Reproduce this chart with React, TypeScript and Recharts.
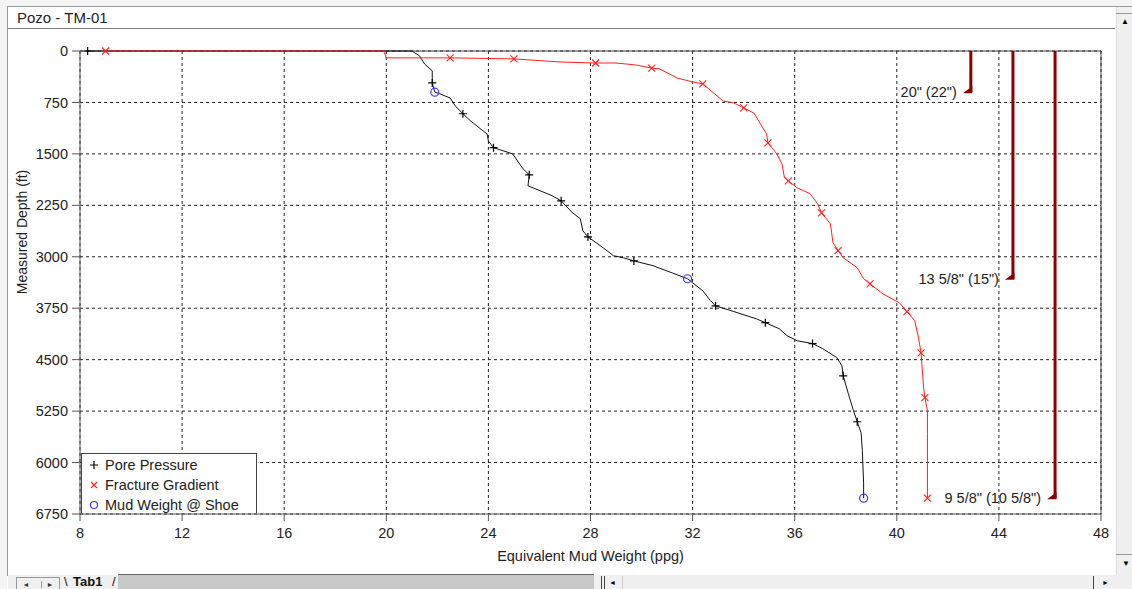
import React from 'react';
import {
  ScatterChart,
  Scatter,
  XAxis,
  YAxis,
  CartesianGrid,
  ReferenceLine,
  Legend,
  Label,
} from 'recharts';

// Pore pressure curve (ppg vs ft), markers at selected indices
const poreEmw = [
  8.3, 14.3, 21.0, 21.3, 21.5, 21.8, 21.8, 21.8, 21.9, 22.1, 22.5, 22.7, 23.0, 23.3, 23.95, 24.0,
  24.2, 24.95, 25.35, 25.6, 25.55, 26.5, 26.85, 27.3, 27.6, 27.7, 27.9, 28.5, 28.9, 29.3, 29.7,
  30.45, 31.2, 31.8, 32.0, 32.4, 32.7, 32.9, 33.5, 34.5, 34.85, 35.4, 35.7, 36.1, 36.7, 37.1,
  37.65, 37.85, 37.9, 38.1, 38.3, 38.45, 38.6, 38.65, 38.7, 38.7,
];
const poreDepth = [
  0, 0, 0, 70, 190, 290, 440, 465, 600, 625, 685, 800, 915, 1020, 1210, 1310,
  1410, 1500, 1715, 1805, 1965, 2110, 2185, 2360, 2445, 2620, 2710, 2870, 2985, 3015, 3060,
  3130, 3235, 3320, 3380, 3495, 3640, 3715, 3785, 3905, 3960, 4050, 4150, 4225, 4265, 4340,
  4470, 4590, 4735, 4995, 5240, 5405, 5565, 5825, 6300, 6520,
];
const poreMarks = [0, 7, 12, 16, 19, 22, 26, 30, 37, 40, 44, 48, 51];

// Fracture gradient curve
const fracEmw = [
  9.0, 19.9, 20.0, 22.5, 25.0, 26.8, 28.2, 29.0, 29.8, 30.4, 30.7, 31.4, 32.0, 32.4, 33.2, 33.6,
  34.0, 34.4, 34.9, 34.95, 35.3, 35.5, 35.6, 35.75, 36.1, 36.6, 36.9, 37.05, 37.4, 37.5, 37.7,
  37.9, 38.45, 38.7, 38.95, 39.45, 40.1, 40.4, 40.7, 40.85, 40.95, 41.05, 41.1, 41.2, 41.2, 41.2,
];
const fracDepth = [
  0, 0, 100, 100, 115, 160, 175, 175, 205, 250, 260, 395, 450, 480, 730, 755,
  830, 905, 1210, 1340, 1500, 1645, 1850, 1895, 1995, 2080, 2230, 2360, 2520, 2795, 2910,
  3015, 3160, 3320, 3395, 3540, 3670, 3800, 3930, 4180, 4400, 4910, 5055, 5240, 5580, 6520,
];
const fracMarks = [0, 3, 4, 6, 9, 13, 16, 19, 23, 27, 30, 34, 37, 40, 42, 45];

// Mud weight at casing shoes
const shoeEmw = [21.9, 31.8, 38.7];
const shoeDepth = [600, 3320, 6520];

// Casing strings
const casingNames = ['20" (22")', '13 5/8" (15")', '9 5/8" (10 5/8")'];
const casingX = [42.9, 44.55, 46.2];
const casingShoe = [600, 3320, 6520];

const xTicks = [8, 12, 16, 20, 24, 28, 32, 36, 40, 44, 48];
const yTicks = [0, 750, 1500, 2250, 3000, 3750, 4500, 5250, 6000, 6750];

const poreData = poreEmw.map((x, i) => ({ x, d: poreDepth[i], mark: poreMarks.includes(i) }));
const fracData = fracEmw.map((x, i) => ({ x, d: fracDepth[i], mark: fracMarks.includes(i) }));
const shoeData = shoeEmw.map((x, i) => ({ x, d: shoeDepth[i] }));
const casingData = casingNames.map((name, i) => [
  { x: casingX[i], d: 0 },
  { x: casingX[i], d: casingShoe[i], foot: true, name },
]);

const FONT = '"Liberation Sans", Arial, sans-serif';
const TEXT = '#222';

const PlusShape = (props: any) => {
  const { cx, cy, payload } = props;
  if (!payload || !payload.mark) return <g />;
  return <path d={`M${cx - 4},${cy}H${cx + 4}M${cx},${cy - 4}V${cy + 4}`} stroke="#000" strokeWidth={1.2} />;
};

const CrossShape = (props: any) => {
  const { cx, cy, payload } = props;
  if (!payload || !payload.mark) return <g />;
  return (
    <path
      d={`M${cx - 3.5},${cy - 3.5}L${cx + 3.5},${cy + 3.5}M${cx + 3.5},${cy - 3.5}L${cx - 3.5},${cy + 3.5}`}
      stroke="#ff2020"
      strokeWidth={1.1}
    />
  );
};

const CircleShape = (props: any) => {
  const { cx, cy } = props;
  return <circle cx={cx} cy={cy} r={4} fill="none" stroke="#3a3aff" strokeWidth={1.2} />;
};

const CasingShape = (props: any) => {
  const { cx, cy, payload } = props;
  if (!payload || !payload.foot) return <g />;
  return (
    <g>
      <polygon points={`${cx + 1.5},${cy + 1} ${cx - 8},${cy + 1} ${cx + 1.5},${cy - 6}`} fill="#8b0000" />
      <text x={cx - 14} y={cy} dy={5} textAnchor="end" fontFamily={FONT} fontSize={14.5} fill={TEXT}>
        {payload.name}
      </text>
    </g>
  );
};

const LegendBox = () => {
  const rows = [
    { label: 'Pore Pressure', icon: <path d="M1,5H9M5,1V9" stroke="#000" strokeWidth={1.2} /> },
    {
      label: 'Fracture Gradient',
      icon: <path d="M2,2L8,8M8,2L2,8" stroke="#ff2020" strokeWidth={1.1} />,
    },
    { label: 'Mud Weight @ Shoe', icon: <circle cx={5} cy={5} r={3.5} fill="none" stroke="#3a3aff" strokeWidth={1.2} /> },
  ];
  return (
    <div
      style={{
        width: 176,
        height: 60,
        border: '1px solid #444',
        borderBottom: 'none',
        background: '#fff',
        boxSizing: 'border-box',
        paddingTop: 1,
        fontFamily: FONT,
        fontSize: 14.5,
        color: TEXT,
      }}
    >
      {rows.map((r) => (
        <div key={r.label} style={{ height: 20, display: 'flex', alignItems: 'center' }}>
          <svg width={10} height={10} style={{ marginLeft: 7, marginRight: 6 }}>
            {r.icon}
          </svg>
          <span>{r.label}</span>
        </div>
      ))}
    </div>
  );
};

const App: React.FC = () => {
  return (
    <div
      style={{
        position: 'absolute',
        left: 0,
        top: 0,
        width: 1132,
        height: 589,
        background: '#fff',
        overflow: 'hidden',
        fontFamily: FONT,
      }}
    >
      {/* window frame */}
      <div style={{ position: 'absolute', left: 0, top: 0, width: 1132, height: 6, background: '#f4f4f4' }} />
      <div style={{ position: 'absolute', left: 7, top: 6, width: 1125, height: 1, background: '#9a9a9a' }} />
      <div style={{ position: 'absolute', left: 0, top: 0, width: 7, height: 589, background: '#f4f4f4' }} />
      <div style={{ position: 'absolute', left: 7, top: 6, width: 1, height: 570, background: '#9a9a9a' }} />
      <div style={{ position: 'absolute', left: 17, top: 9, fontSize: 15, color: TEXT }}>Pozo - TM-01</div>
      <div style={{ position: 'absolute', left: 8, top: 28, width: 1107, height: 1, background: '#7a7a7a' }} />
      {/* right scrollbar */}
      <div
        style={{
          position: 'absolute',
          left: 1116,
          top: 7,
          width: 16,
          height: 569,
          background: '#f0f0f0',
          borderLeft: '1px solid #dcdcdc',
        }}
      />
      <div style={{ position: 'absolute', left: 1116, top: 13, width: 16, height: 1, background: '#9a9a9a' }} />
      <div style={{ position: 'absolute', left: 1121, top: 17, fontSize: 8, color: '#000' }}>▲</div>
      <div style={{ position: 'absolute', left: 1116, top: 554, width: 16, height: 1, background: '#9a9a9a' }} />
      <div style={{ position: 'absolute', left: 1122, top: 559, fontSize: 8, color: '#000' }}>▼</div>
      {/* bottom tab bar */}
      <div style={{ position: 'absolute', left: 8, top: 575, width: 1124, height: 14, background: '#f0f0f0' }} />
      <div style={{ position: 'absolute', left: 118, top: 574, width: 476, height: 15, background: '#c8c8c8', borderTop: '1px solid #666' }} />
      <div
        style={{
          position: 'absolute',
          left: 16,
          top: 577,
          width: 42,
          height: 12,
          border: '1px solid #999',
          borderBottom: 'none',
          fontSize: 7,
          color: '#333',
          display: 'flex',
          justifyContent: 'space-around',
          alignItems: 'center',
        }}
      >
        <span>◄</span>
        <span style={{ borderLeft: '1px solid #999', paddingLeft: 5 }}>►</span>
      </div>
      <div style={{ position: 'absolute', left: 73, top: 574, fontSize: 13, lineHeight: '15px', fontWeight: 'bold', color: '#111' }}>Tab1</div>
      <div style={{ position: 'absolute', left: 64, top: 574, fontSize: 13, lineHeight: '15px', color: '#111' }}>\</div>
      <div style={{ position: 'absolute', left: 112, top: 574, fontSize: 13, lineHeight: '15px', color: '#111' }}>/</div>
      <div style={{ position: 'absolute', left: 601, top: 576, width: 2, height: 13, borderLeft: '1px solid #444', borderRight: '1px solid #444' }} />
      <div style={{ position: 'absolute', left: 609, top: 579, fontSize: 7, color: '#000' }}>◄</div>
      <div style={{ position: 'absolute', left: 622, top: 576, width: 1, height: 13, background: '#ccc' }} />
      <div style={{ position: 'absolute', left: 1093, top: 576, width: 1, height: 13, background: '#444' }} />
      <div style={{ position: 'absolute', left: 1102, top: 579, fontSize: 7, color: '#000' }}>►</div>

      <div style={{ position: 'absolute', left: 0, top: 0 }}>
        <ScatterChart width={1132} height={589} margin={{ top: 51, right: 31, left: 30, bottom: 35 }}>
          <CartesianGrid strokeDasharray="3 3" stroke="#222" strokeWidth={1} />
          <XAxis
            type="number"
            dataKey="x"
            domain={[8, 48]}
            ticks={xTicks}
            interval={0}
            height={40}
            stroke="#555"
            tickSize={7}
            tickMargin={7}
            tick={{ fill: TEXT, fontSize: 14.5, fontFamily: FONT }}
          >
            <Label
              content={({ viewBox }: any) => (
                <text
                  x={viewBox.x + viewBox.width / 2}
                  y={viewBox.y + 47}
                  textAnchor="middle"
                  fontFamily={FONT}
                  fontSize={14.5}
                  fill={TEXT}
                >
                  Equivalent Mud Weight (ppg)
                </text>
              )}
            />
          </XAxis>
          <YAxis
            type="number"
            dataKey="d"
            domain={[0, 6750]}
            reversed
            ticks={yTicks}
            interval={0}
            width={50}
            stroke="#555"
            tickSize={8}
            tickMargin={4}
            tick={{ fill: TEXT, fontSize: 14.5, fontFamily: FONT }}
          >
            <Label
              content={({ viewBox }: any) => (
                <text
                  transform={`translate(${viewBox.x - 3}, ${viewBox.y + 181}) rotate(-90)`}
                  textAnchor="middle"
                  fontFamily={FONT}
                  fontSize={14}
                  fill={TEXT}
                >
                  Measured Depth (ft)
                </text>
              )}
            />
          </YAxis>
          <ReferenceLine y={0} stroke="#444" strokeWidth={1} />
          <ReferenceLine x={48} stroke="#444" strokeWidth={1} />
          <Scatter
            name="Pore Pressure"
            data={poreData}
            fill="#000"
            line={{ stroke: '#111', strokeWidth: 1 }}
            lineType="joint"
            shape={PlusShape}
            isAnimationActive={false}
          />
          <Scatter
            name="Fracture Gradient"
            data={fracData}
            fill="#ff2020"
            line={{ stroke: '#ff2020', strokeWidth: 1 }}
            lineType="joint"
            shape={CrossShape}
            isAnimationActive={false}
          />
          <Scatter name="Mud Weight @ Shoe" data={shoeData} fill="#3a3aff" shape={CircleShape} isAnimationActive={false} />
          {casingData.map((pts, i) => (
            <Scatter
              key={casingNames[i]}
              name={casingNames[i]}
              data={pts}
              fill="#8b0000"
              line={{ stroke: '#8b0000', strokeWidth: 3 }}
              lineType="joint"
              shape={CasingShape}
              isAnimationActive={false}
              legendType="none"
            />
          ))}
          <Legend
            layout="vertical"
            align="center"
            verticalAlign="middle"
            content={() => <LegendBox />}
            wrapperStyle={{ position: 'absolute', left: 81, top: 453, width: 176, height: 60 }}
          />
        </ScatterChart>
      </div>
    </div>
  );
};

export default App;
